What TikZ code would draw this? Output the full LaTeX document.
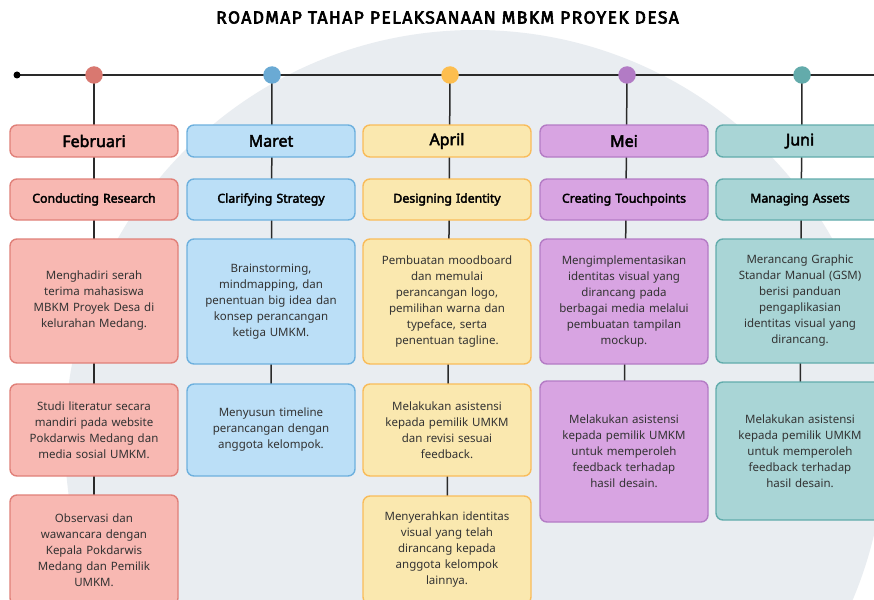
\documentclass[tikz,border=0pt]{standalone}
\usepackage{fontspec}
\setmainfont{Noto Sans}[AutoFakeBold=2.8]
\newfontfamily\titlefont{Fira Sans}[FakeBold=3.4, LetterSpace=8]
\usetikzlibrary{backgrounds}
\definecolor{redF}{HTML}{F8B8B2}\definecolor{redB}{HTML}{E08079}\definecolor{redD}{HTML}{D97870}
\definecolor{bluF}{HTML}{BBDFF7}\definecolor{bluB}{HTML}{6DB0DE}\definecolor{bluD}{HTML}{6AAAD4}
\definecolor{yelF}{HTML}{FAE8AF}\definecolor{yelB}{HTML}{F9BC5A}\definecolor{yelD}{HTML}{FDBE4F}
\definecolor{purF}{HTML}{D8A4E2}\definecolor{purB}{HTML}{B47CC5}\definecolor{purD}{HTML}{B27BC5}
\definecolor{teaF}{HTML}{A9D5D6}\definecolor{teaB}{HTML}{62ACAC}\definecolor{teaD}{HTML}{63ABAB}
\definecolor{bgG}{HTML}{E9EDF1}
\definecolor{lineC}{HTML}{2A2A2A}
\definecolor{txt}{HTML}{333333}
\tikzset{
  bx/.style={rounded corners=7pt, line width=1.4pt, align=center, text width=164pt,
    minimum width=168pt, inner sep=0pt, text=txt, font=\fontsize{11.5}{16}\selectfont},
  monthbox/.style={bx, minimum height=32pt, text=black, font=\bfseries\fontsize{16}{18}\selectfont},
  subbox/.style={bx, minimum height=41pt, text=black, font=\bfseries\fontsize{12.3}{14}\selectfont},
  cR/.style={fill=redF, draw=redB},
  cB/.style={fill=bluF, draw=bluB},
  cY/.style={fill=yelF, draw=yelB},
  cP/.style={fill=purF, draw=purB},
  cT/.style={fill=teaF, draw=teaB},
  dotn/.style={circle, minimum size=17.5pt, inner sep=0pt},
  vline/.style={draw=lineC, line width=1.5pt},
}
\begin{document}
\begin{tikzpicture}[x=1pt,y=-1pt]
\useasboundingbox (0,0) rectangle (874,599);
\node[font=\titlefont\fontsize{17.5}{19}\selectfont, text=black] (title) at (447.5,17.5) {ROADMAP TAHAP PELAKSANAAN MBKM PROYEK DESA};
% timeline
\node[circle, fill=black, minimum size=7pt, inner sep=0pt] (start) at (17,75) {};
\coordinate (tend) at (880,75);
\node[dotn, fill=redD] (d1) at (94,75) {};
\node[dotn, fill=bluD] (d2) at (272,75) {};
\node[dotn, fill=yelD] (d3) at (450,75) {};
\node[dotn, fill=purD] (d4) at (627,75) {};
\node[dotn, fill=teaD] (d5) at (802,75) {};
% column 1
\node[monthbox, cR] (m1) at (94,141) {Februari};
\node[subbox, cR] (s1) at (94,199.5) {Conducting Research};
\node[bx, cR, minimum height=124pt] (a1) at (94,301) {Menghadiri serah\\terima mahasiswa\\MBKM Proyek Desa di\\kelurahan Medang.};
\node[bx, cR, minimum height=92pt] (b1) at (94,430) {Studi literatur secara\\mandiri pada website\\Pokdarwis Medang dan\\media sosial UMKM.};
\node[bx, cR, minimum height=110pt] (c1) at (94,550) {Observasi dan\\wawancara dengan\\Kepala Pokdarwis\\Medang dan Pemilik\\UMKM.};
% column 2
\node[monthbox, cB] (m2) at (271,141) {Maret};
\node[subbox, cB] (s2) at (271,199.5) {Clarifying Strategy};
\node[bx, cB, minimum height=125pt] (a2) at (271,301.5) {Brainstorming,\\mindmapping, dan\\penentuan big idea dan\\konsep perancangan\\ketiga UMKM.};
\node[bx, cB, minimum height=92pt] (b2) at (271,430) {Menyusun timeline\\perancangan dengan\\anggota kelompok.};
% column 3
\node[monthbox, cY] (m3) at (447,141) {April};
\node[subbox, cY] (s3) at (447,199.5) {Designing Identity};
\node[bx, cY, minimum height=125pt] (a3) at (447,301.5) {Pembuatan moodboard\\dan memulai\\perancangan logo,\\pemilihan warna dan\\typeface, serta\\penentuan tagline.};
\node[bx, cY, minimum height=92pt] (b3) at (447,430) {Melakukan asistensi\\kepada pemilik UMKM\\dan revisi sesuai\\feedback.};
\node[bx, cY, minimum height=108pt] (c3) at (447,550) {Menyerahkan identitas\\visual yang telah\\dirancang kepada\\anggota kelompok\\lainnya.};
% column 4
\node[monthbox, cP] (m4) at (624,141) {Mei};
\node[subbox, cP] (s4) at (624,199.5) {Creating Touchpoints};
\node[bx, cP, minimum height=125pt] (a4) at (624,301.5) {Mengimplementasikan\\identitas visual yang\\dirancang pada\\berbagai media melalui\\pembuatan tampilan\\mockup.};
\node[bx, cP, minimum height=141pt] (b4) at (624,451.5) {Melakukan asistensi\\kepada pemilik UMKM\\untuk memperoleh\\feedback terhadap\\hasil desain.};
% column 5
\node[monthbox, cT] (m5) at (800,141) {Juni};
\node[subbox, cT] (s5) at (800,199.5) {Managing Assets};
\node[bx, cT, minimum height=124pt] (a5) at (800,301) {Merancang Graphic\\Standar Manual (GSM)\\berisi panduan\\pengaplikasian\\identitas visual yang\\dirancang.};
\node[bx, cT, minimum height=138pt] (b5) at (800,451) {Melakukan asistensi\\kepada pemilik UMKM\\untuk memperoleh\\feedback terhadap\\hasil desain.};
\begin{pgfonlayer}{background}
\fill[white] (0,0) rectangle (874,599);
\fill[bgG] (475,440) circle[radius=410];
\draw[draw=lineC, line width=2.6pt] (start.center) -- (tend);
\draw[vline] (d1.center) -- (c1.center);
\draw[vline] (d2.center) -- (b2.center);
\draw[vline] (d3.center) -- (c3.center);
\draw[vline] (d4.center) -- (b4.center);
\draw[vline] (d5.center) -- (b5.center);
\end{pgfonlayer}
\end{tikzpicture}
\end{document}
